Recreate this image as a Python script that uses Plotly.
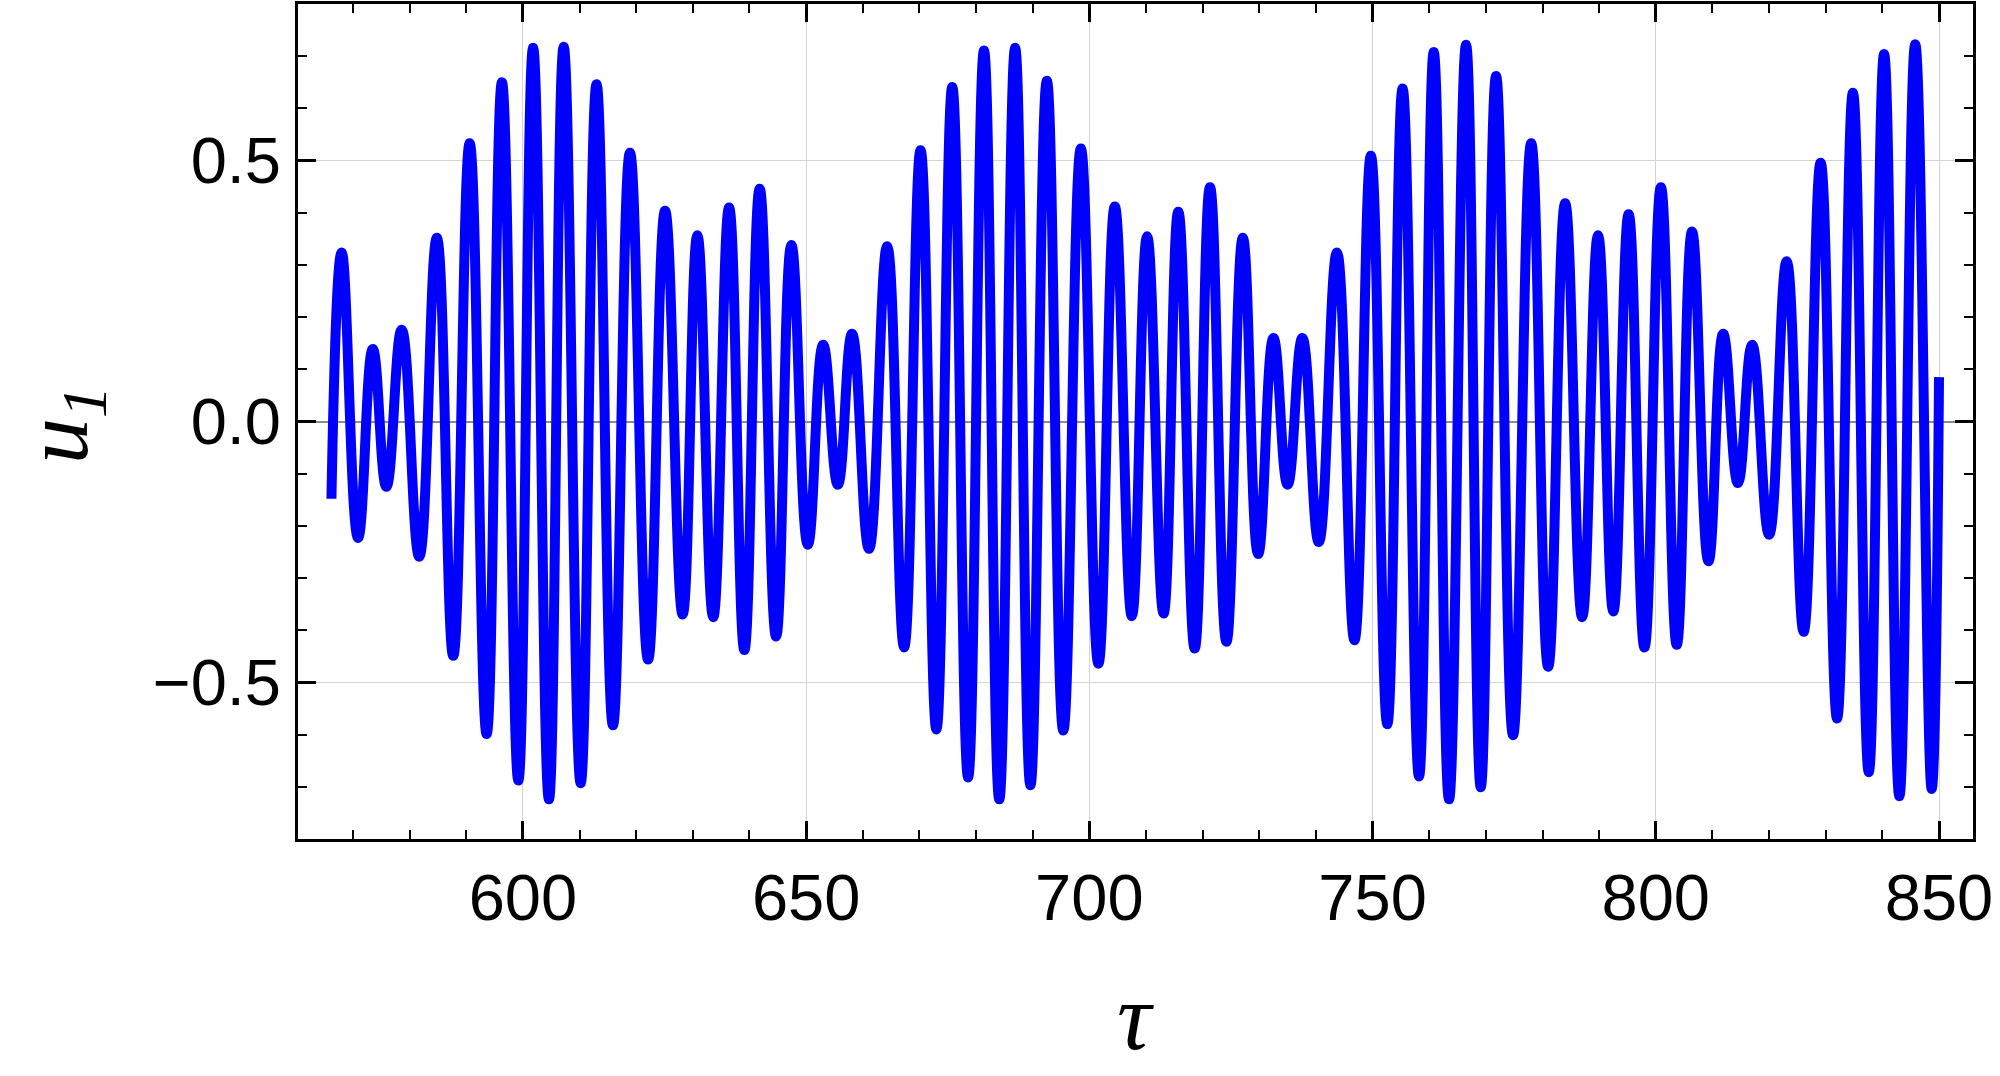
import plotly.graph_objects as go

# ---- data (extrema of the oscillation) ----
start_tau, start_u = 566.2, -0.148
end_tau, end_u = 850.0, 0.085

peak_tau = [568.0, 573.5, 578.6, 584.8, 590.6, 596.3, 601.8, 607.2, 613.0, 618.9,
            625.1, 630.8, 636.4, 641.8, 647.4, 653.0, 658.1, 664.3, 670.2, 675.8,
            681.4, 686.9, 692.5, 698.5, 704.5, 710.2, 715.7, 721.3, 727.1, 732.5,
            737.6, 743.7, 749.7, 755.3, 760.8, 766.5, 771.8, 778.0, 784.0, 789.8,
            795.2, 800.9, 806.4, 811.9, 817.0, 823.1, 829.1, 834.8, 840.3, 845.8]
peak_u = [0.324, 0.139, 0.176, 0.352, 0.533, 0.650, 0.716, 0.718, 0.646, 0.515,
          0.404, 0.357, 0.410, 0.446, 0.338, 0.147, 0.168, 0.336, 0.520, 0.641,
          0.711, 0.716, 0.653, 0.523, 0.412, 0.355, 0.402, 0.449, 0.352, 0.160,
          0.160, 0.324, 0.509, 0.638, 0.708, 0.722, 0.662, 0.533, 0.418, 0.357,
          0.397, 0.449, 0.364, 0.168, 0.147, 0.307, 0.496, 0.630, 0.704, 0.723]
trough_tau = [570.9, 575.9, 581.7, 587.7, 593.6, 599.2, 604.6, 610.2, 615.9, 622.1,
              628.2, 633.6, 639.1, 644.7, 650.3, 655.6, 661.1, 667.3, 673.0, 678.6,
              684.1, 689.6, 695.4, 701.6, 707.5, 713.1, 718.6, 724.2, 729.8, 735.0,
              740.5, 746.8, 752.6, 758.2, 763.5, 769.1, 774.8, 781.0, 787.0, 792.5,
              798.0, 803.7, 809.3, 814.5, 820.0, 826.1, 832.0, 837.6, 843.0, 848.7]
trough_u = [-0.223, -0.125, -0.259, -0.449, -0.599, -0.688, -0.724, -0.693, -0.582, -0.456,
            -0.370, -0.375, -0.438, -0.412, -0.236, -0.121, -0.244, -0.433, -0.590, -0.682,
            -0.724, -0.697, -0.592, -0.464, -0.373, -0.368, -0.435, -0.422, -0.254, -0.121,
            -0.231, -0.419, -0.580, -0.680, -0.724, -0.701, -0.601, -0.470, -0.375, -0.364,
            -0.433, -0.428, -0.268, -0.118, -0.217, -0.403, -0.569, -0.672, -0.718, -0.704]

x_tickvals = [600, 650, 700, 750, 800, 850]
y_tickvals = [-0.5, 0.0, 0.5]

tau = [start_tau]
u = [start_u]
for pt, pu, tt, tu in zip(peak_tau, peak_u, trough_tau, trough_u):
    tau += [pt, tt]
    u += [pu, tu]
tau.append(end_tau)
u.append(end_u)

fig = go.Figure()
fig.add_trace(go.Scatter(x=tau, y=u, mode="lines",
                         line=dict(color="#0000FF", width=10, shape="spline", smoothing=1.3),
                         showlegend=False, hoverinfo="skip"))

W, H = 2000, 1076
L, R, T, B = 298, 27, 4, 237
pw = W - L - R
ph = H - T - B

tickfont = dict(family="Liberation Sans, Arial, sans-serif", size=65, color="black")
axis_common = dict(showline=True, linecolor="black", linewidth=3, mirror="allticks",
                   ticks="inside", tickcolor="black", tickwidth=3, ticklen=18,
                   showgrid=True, gridcolor="#d3d3d3", gridwidth=1,
                   tickfont=tickfont, automargin=False)

fig.update_xaxes(range=[560.3, 856.0], tickvals=x_tickvals, zeroline=False,
                 minor=dict(ticks="inside", ticklen=9, tickwidth=2, tickcolor="black",
                            dtick=10, tick0=600, showgrid=False),
                 ticklabelstandoff=0, **axis_common)
fig.update_yaxes(range=[-0.8, 0.8], tickvals=y_tickvals, tickformat=".1f",
                 zeroline=True, zerolinecolor="#8c8c8c", zerolinewidth=1.5,
                 minor=dict(ticks="inside", ticklen=9, tickwidth=2, tickcolor="black",
                            dtick=0.1, tick0=0, showgrid=False),
                 ticklabelstandoff=1, **axis_common)

titlefont = dict(family="Liberation Serif, Times New Roman, serif", size=92, color="black")
fig.add_annotation(text="<i>u</i><sub><i>1</i></sub>", xref="paper", yref="paper",
                   x=(62 - L) / pw, y=(H - B - 425) / ph, textangle=-90,
                   showarrow=False, font=titlefont, xanchor="center", yanchor="middle")
fig.add_annotation(text="<i>τ</i>", xref="paper", yref="paper",
                   x=(1135 - L) / pw, y=-(1072 - (H - B)) / ph, showarrow=False,
                   font=dict(family="Liberation Serif, Times New Roman, serif", size=95,
                             color="black"),
                   xanchor="center", yanchor="bottom")

fig.update_layout(width=W, height=H, margin=dict(l=L, r=R, t=T, b=B),
                  paper_bgcolor="white", plot_bgcolor="white")
fig.write_html("out.html", config={"displayModeBar": False},
               post_script="document.body.style.margin='0';")
